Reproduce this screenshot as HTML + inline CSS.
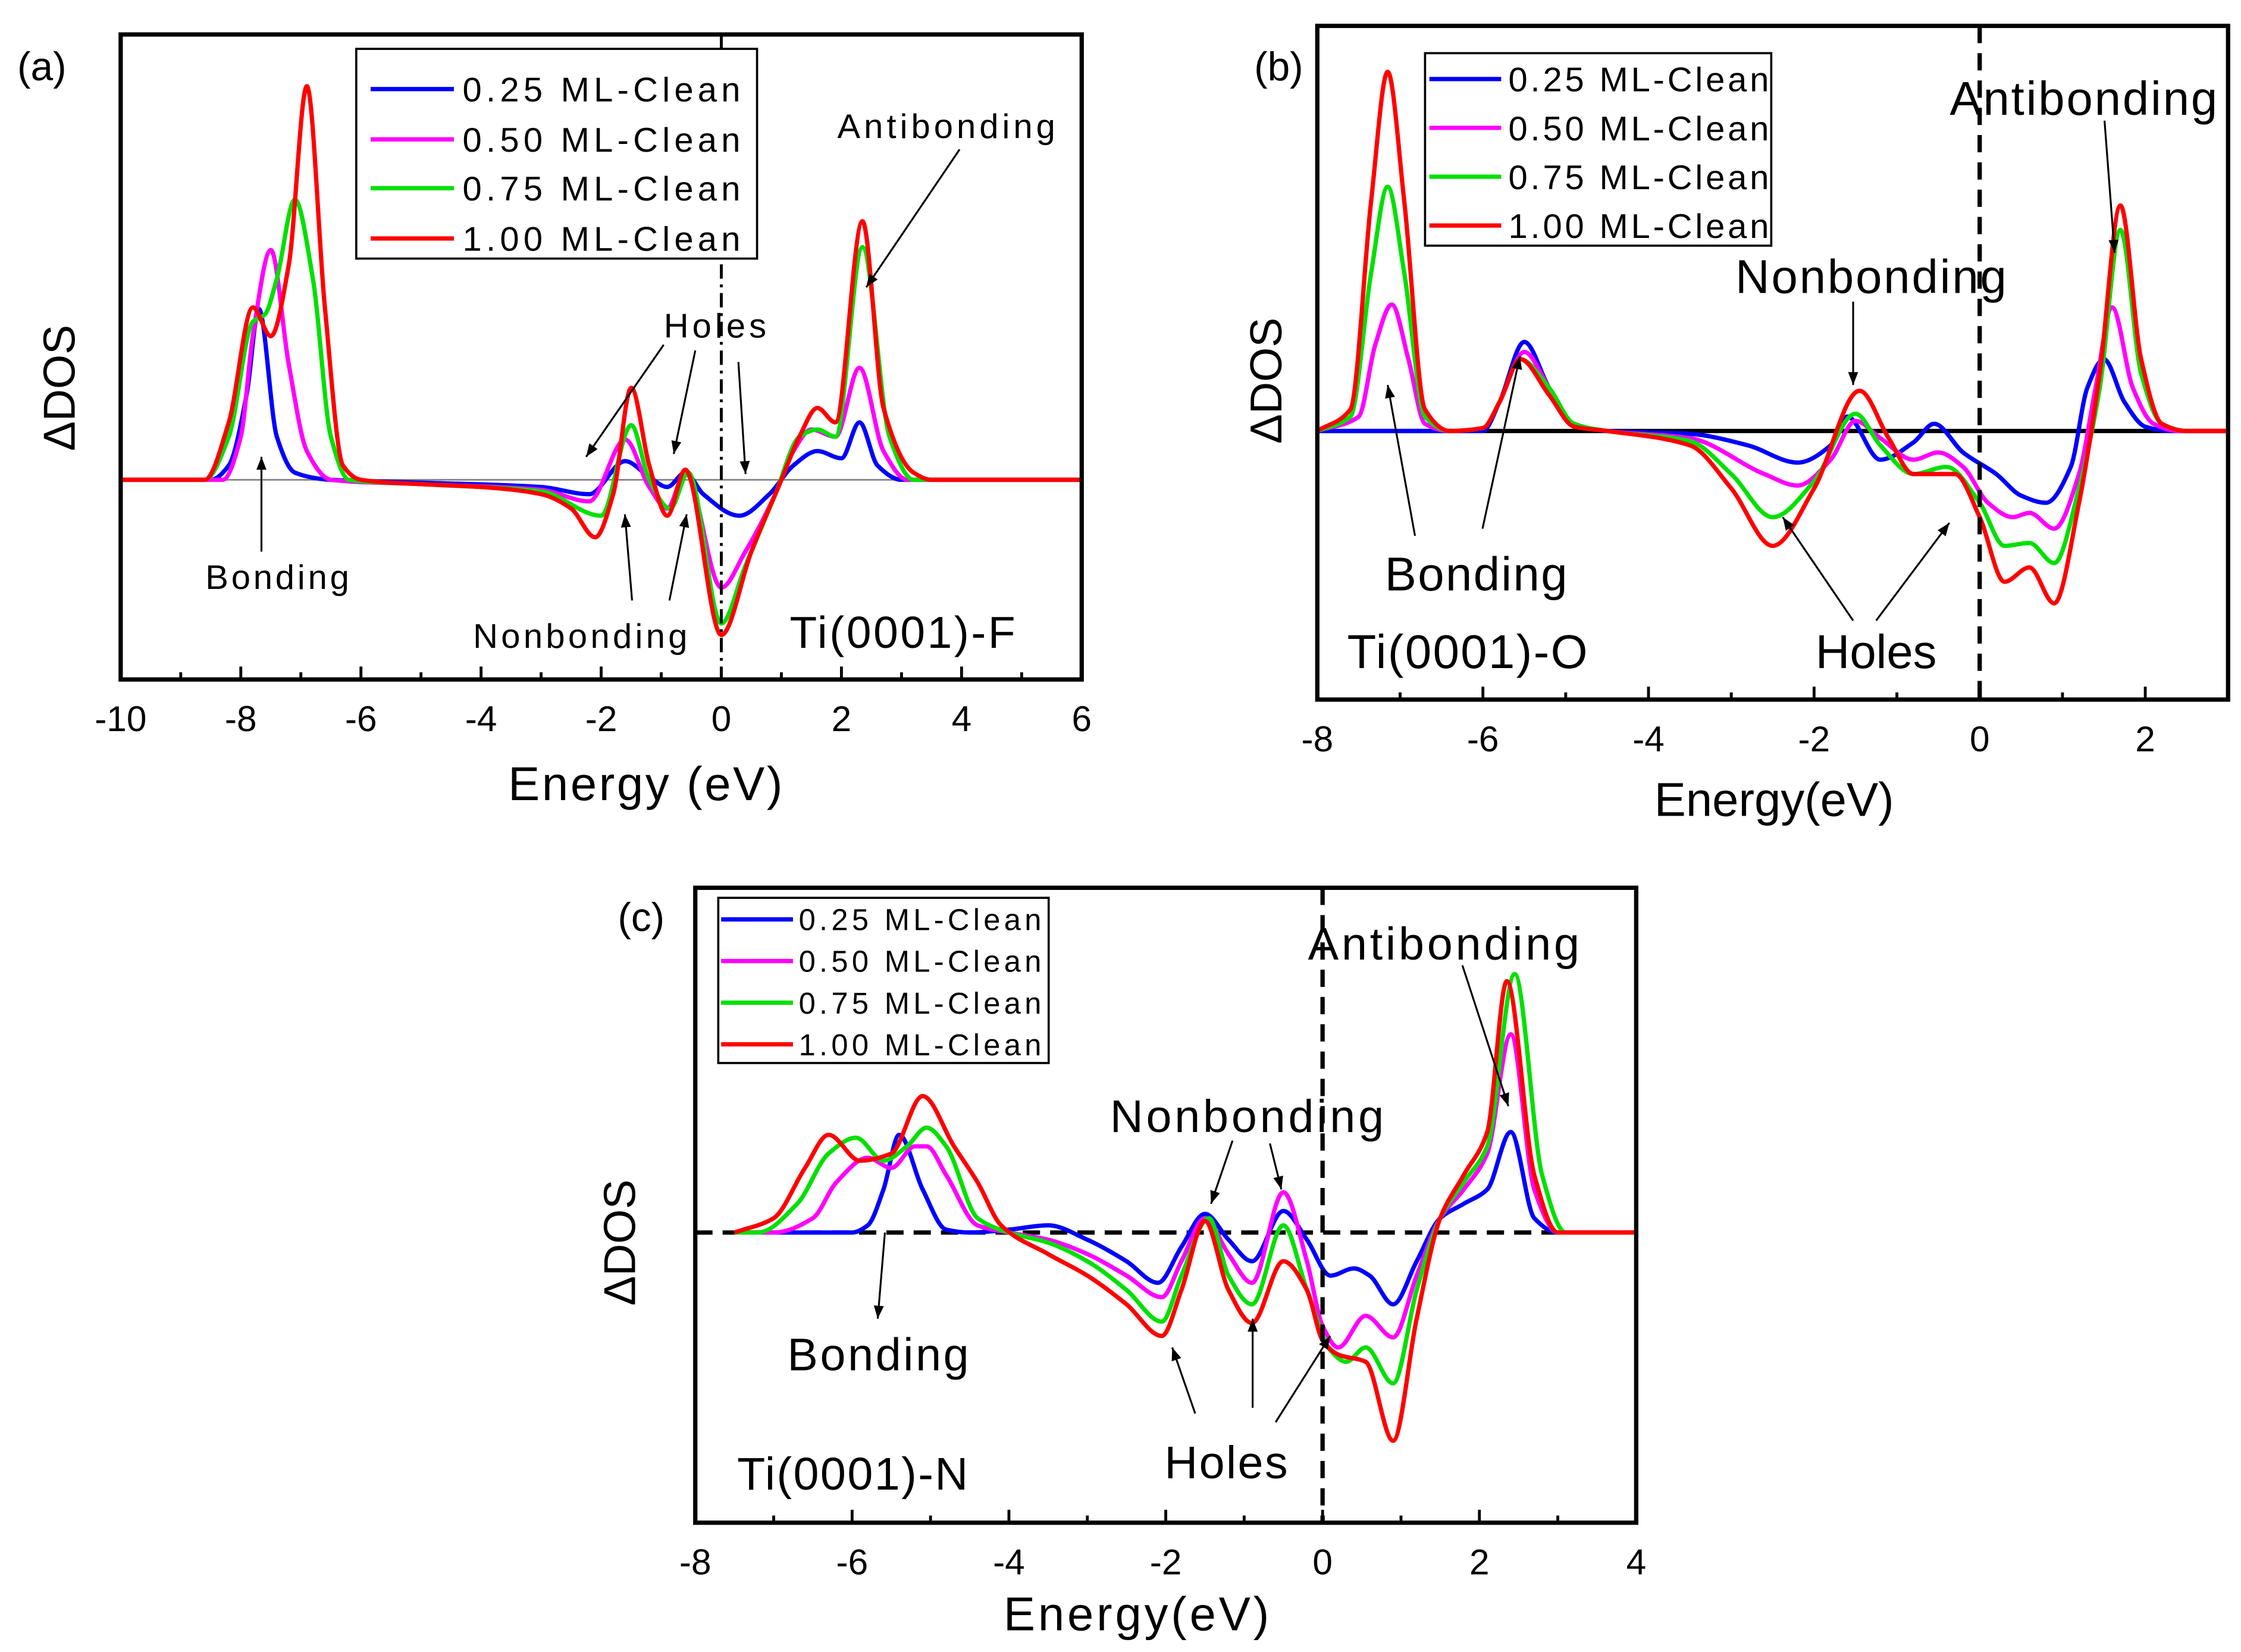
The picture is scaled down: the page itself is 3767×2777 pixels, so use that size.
<!DOCTYPE html>
<html><head><meta charset="utf-8"><style>
html,body{margin:0;padding:0;background:#fff}
svg{display:block}
text{font-family:"Liberation Sans",sans-serif;fill:#000}
</style></head><body>
<svg id="fig" width="3767" height="2777" viewBox="0 0 1560 1150" xmlns="http://www.w3.org/2000/svg"></svg>
<script>
// ---------- Data (energy eV, ΔDOS arbitrary units) ----------
const seriesLabels = ["0.25 ML-Clean","0.50 ML-Clean","0.75 ML-Clean","1.00 ML-Clean"];
const seriesColors = ["#0000ff","#ff00ff","#00e000","#ff0000"];
// Panel (a) Ti(0001)-F
const a_blue = [[-10,0],[-8.5,0],[-8.2,0.1],[-7.9,0.6],[-7.7,1.19],[-7.4,0.3],[-7.1,0.05],[-6.5,0],[-5,-0.02],[-3,-0.05],[-2.2,-0.1],[-1.6,0.13],[-1.2,0.02],[-0.9,-0.05],[-0.6,0.05],[-0.3,-0.1],[0.3,-0.25],[0.8,-0.1],[1.2,0.1],[1.6,0.2],[2.0,0.15],[2.3,0.4],[2.6,0.1],[3,0],[6,0]];
const a_magenta = [[-10,0],[-8.3,0],[-8,0.3],[-7.8,1.0],[-7.5,1.6],[-7.2,0.8],[-6.9,0.2],[-6.5,0],[-5,-0.03],[-3,-0.07],[-2.2,-0.15],[-1.6,0.28],[-1.2,-0.05],[-0.9,-0.2],[-0.6,0.05],[0,-0.75],[0.4,-0.5],[0.9,-0.1],[1.2,0.2],[1.5,0.35],[1.9,0.3],[2.3,0.78],[2.7,0.2],[3.1,0],[6,0]];
const a_green = [[-10,0],[-8.6,0],[-8.2,0.3],[-7.8,1.1],[-7.6,1.15],[-7.4,1.4],[-7.1,1.95],[-6.8,1.4],[-6.5,0.3],[-6.2,0],[-5,-0.03],[-3,-0.08],[-2,-0.25],[-1.5,0.38],[-1.2,0],[-0.85,-0.2],[-0.55,0.05],[0,-1.0],[0.4,-0.6],[0.9,-0.1],[1.3,0.3],[1.6,0.35],[1.9,0.3],[2.35,1.62],[2.8,0.3],[3.2,0],[6,0]];
const a_red = [[-10,0],[-8.6,0],[-8.2,0.4],[-7.8,1.2],[-7.5,1.0],[-7.2,1.5],[-6.9,2.74],[-6.6,1.2],[-6.3,0.1],[-6,0],[-5,-0.03],[-4,-0.05],[-3,-0.1],[-2.5,-0.2],[-2.1,-0.4],[-1.8,-0.1],[-1.5,0.64],[-1.2,0.1],[-0.9,-0.25],[-0.6,0.07],[0,-1.08],[0.5,-0.5],[1.0,0],[1.3,0.3],[1.6,0.5],[1.9,0.4],[2.35,1.8],[2.7,0.5],[3.2,0.05],[3.5,0],[6,0]];
// Panel (b) Ti(0001)-O
const b_blue = [[-8,0],[-6,0],[-5.8,0.2],[-5.5,0.62],[-5.2,0.3],[-4.9,0.05],[-4.5,0],[-3.5,-0.02],[-2.8,-0.1],[-2.2,-0.22],[-1.8,-0.1],[-1.6,0.1],[-1.2,-0.2],[-0.8,-0.08],[-0.55,0.05],[-0.2,-0.15],[0.2,-0.3],[0.5,-0.45],[0.8,-0.5],[1.1,-0.25],[1.3,0.3],[1.5,0.5],[1.75,0.2],[2,0.03],[2.3,0],[3,0]];
const b_magenta = [[-8,0],[-7.5,0.1],[-7.3,0.6],[-7.1,0.88],[-6.9,0.5],[-6.7,0.05],[-6.4,0],[-6,0.02],[-5.8,0.2],[-5.5,0.55],[-5.2,0.3],[-4.9,0.05],[-4.5,0],[-3.5,-0.05],[-2.6,-0.3],[-2.2,-0.38],[-1.8,-0.2],[-1.5,0.07],[-1.2,-0.05],[-0.8,-0.2],[-0.5,-0.15],[-0.2,-0.25],[0.1,-0.5],[0.4,-0.6],[0.6,-0.57],[0.9,-0.68],[1.2,-0.3],[1.4,0.3],[1.6,0.86],[1.85,0.3],[2.1,0.05],[2.4,0],[3,0]];
const b_green = [[-8,0],[-7.6,0.1],[-7.35,1.1],[-7.15,1.7],[-6.95,1.1],[-6.7,0.1],[-6.4,0],[-6,0.02],[-5.8,0.2],[-5.55,0.5],[-5.2,0.3],[-4.9,0.05],[-4.5,0],[-3.5,-0.07],[-3,-0.3],[-2.5,-0.6],[-2,-0.35],[-1.5,0.12],[-1.2,-0.1],[-0.8,-0.3],[-0.4,-0.25],[0,-0.5],[0.3,-0.8],[0.6,-0.78],[0.9,-0.92],[1.2,-0.4],[1.45,0.3],[1.7,1.4],[1.95,0.4],[2.2,0.05],[2.5,0],[3,0]];
const b_red = [[-8,0],[-7.6,0.15],[-7.35,1.6],[-7.15,2.5],[-6.95,1.6],[-6.7,0.15],[-6.4,0],[-6,0.02],[-5.8,0.2],[-5.55,0.5],[-5.2,0.25],[-4.9,0.03],[-4.5,0],[-3.5,-0.1],[-3,-0.4],[-2.5,-0.8],[-2,-0.4],[-1.45,0.28],[-1.1,-0.05],[-0.8,-0.3],[-0.3,-0.3],[0,-0.6],[0.3,-1.05],[0.6,-0.95],[0.9,-1.2],[1.2,-0.5],[1.45,0.4],[1.7,1.57],[1.95,0.5],[2.2,0.05],[2.5,0],[3,0]];
// Panel (c) Ti(0001)-N
const c_blue = [[-7.5,0],[-6,0],[-5.8,0.05],[-5.6,0.3],[-5.4,0.68],[-5.1,0.3],[-4.8,0.02],[-4.5,0],[-4,0.02],[-3.5,0.05],[-3,-0.05],[-2.5,-0.2],[-2.1,-0.35],[-1.8,-0.1],[-1.5,0.13],[-1.2,-0.05],[-0.9,-0.2],[-0.5,0.15],[-0.2,-0.05],[0.1,-0.3],[0.4,-0.25],[0.6,-0.3],[0.9,-0.5],[1.2,-0.2],[1.5,0.1],[1.8,0.2],[2.1,0.3],[2.4,0.7],[2.7,0.1],[3,0],[4,0]];
const c_magenta = [[-7.5,0],[-7,0],[-6.5,0.1],[-6.2,0.35],[-5.8,0.52],[-5.5,0.45],[-5.2,0.6],[-5.05,0.6],[-4.8,0.4],[-4.4,0.05],[-4,0],[-3.5,-0.05],[-3,-0.15],[-2.5,-0.3],[-2.05,-0.45],[-1.8,-0.2],[-1.5,0.1],[-1.2,-0.15],[-0.9,-0.35],[-0.5,0.28],[-0.2,-0.2],[0,-0.65],[0.2,-0.8],[0.55,-0.58],[0.9,-0.73],[1.2,-0.3],[1.5,0.1],[1.8,0.3],[2.1,0.55],[2.4,1.38],[2.7,0.3],[3,0],[4,0]];
const c_green = [[-7.5,0],[-7.2,0],[-6.7,0.2],[-6.3,0.55],[-5.95,0.66],[-5.6,0.5],[-5.3,0.6],[-5.05,0.73],[-4.8,0.6],[-4.4,0.1],[-4,0],[-3.5,-0.07],[-3,-0.2],[-2.5,-0.4],[-2.05,-0.62],[-1.8,-0.3],[-1.45,0.1],[-1.2,-0.3],[-0.9,-0.5],[-0.5,0.05],[-0.2,-0.4],[0.1,-0.82],[0.3,-0.9],[0.55,-0.8],[0.9,-1.05],[1.2,-0.4],[1.5,0.1],[1.8,0.35],[2.1,0.6],[2.45,1.8],[2.8,0.4],[3.1,0],[4,0]];
const c_red = [[-7.5,0],[-7,0.1],[-6.6,0.45],[-6.3,0.68],[-5.9,0.5],[-5.5,0.55],[-5.1,0.95],[-4.7,0.6],[-4.4,0.35],[-4.1,0.05],[-3.5,-0.15],[-3,-0.3],[-2.5,-0.5],[-2.05,-0.72],[-1.8,-0.4],[-1.5,0.08],[-1.2,-0.4],[-0.9,-0.63],[-0.5,-0.2],[-0.2,-0.4],[0,-0.75],[0.2,-0.85],[0.55,-0.9],[0.9,-1.45],[1.2,-0.6],[1.5,0.1],[1.8,0.4],[2.1,0.7],[2.35,1.75],[2.7,0.4],[3,0],[4,0]];
const a_ticks = [-10,-8,-6,-4,-2,0,2,4,6];
const b_ticks = [-8,-6,-4,-2,0,2];
const c_ticks = [-8,-6,-4,-2,0,2,4];

const NS = "http://www.w3.org/2000/svg";
const svg = document.getElementById('fig');
function mk(tag, attrs, parent, txt){
  const e = document.createElementNS(NS, tag);
  for (const k in attrs) e.setAttribute(k, attrs[k]);
  if (txt !== undefined) e.textContent = txt;
  (parent || svg).appendChild(e);
  return e;
}
// monotone cubic (Fritsch–Carlson) to avoid overshoot
function smooth(pts){
  const n = pts.length;
  const dx = [], s = [];
  for (let i = 0; i < n-1; i++){ dx[i] = pts[i+1][0]-pts[i][0]; s[i] = (pts[i+1][1]-pts[i][1])/dx[i]; }
  const m = [s[0]];
  for (let i = 1; i < n-1; i++){
    if (s[i-1]*s[i] <= 0) m[i] = 0;
    else { const w1 = 2*dx[i]+dx[i-1], w2 = dx[i]+2*dx[i-1]; m[i] = (w1+w2)/(w1/s[i-1]+w2/s[i]); }
  }
  m[n-1] = s[n-2];
  let d = "M" + pts[0][0].toFixed(2) + "," + pts[0][1].toFixed(2);
  for (let i = 0; i < n-1; i++){
    const h = dx[i];
    d += " C" + (pts[i][0]+h/3).toFixed(2) + "," + (pts[i][1]+m[i]*h/3).toFixed(2) + " " +
         (pts[i+1][0]-h/3).toFixed(2) + "," + (pts[i+1][1]-m[i+1]*h/3).toFixed(2) + " " +
         pts[i+1][0].toFixed(2) + "," + pts[i+1][1].toFixed(2);
  }
  return d;
}
function arrow(g, x1, y1, x2, y2){
  const a = mk('line', {x1:x1, y1:y1, x2:x2, y2:y2, stroke:'#000', 'stroke-width':1.3}, g);
  
  
  const ang = Math.atan2(y2-y1, x2-x1), L = 9, W = 3.5;
  const bx = x2 - L*Math.cos(ang), by = y2 - L*Math.sin(ang);
  const h = mk('polygon', {points: x2+","+y2+" "+(bx - W*Math.sin(ang))+","+(by + W*Math.cos(ang))+" "+(bx + W*Math.sin(ang))+","+(by - W*Math.cos(ang)), fill:'#000'}, g);
  
  
}

function panel(cfg){
  const g = mk('g', {});
  
  
  const X = e => cfg.x0 + (e - cfg.emin) * (cfg.x1 - cfg.x0) / (cfg.emax - cfg.emin);
  const Y = v => cfg.yz - v * cfg.ys;
  const zl = mk('line', {x1:cfg.x0, x2:cfg.x1, y1:cfg.yz, y2:cfg.yz, stroke: cfg.zeroColor, 'stroke-width': cfg.zeroW}, g);
  if (cfg.zeroDash) zl.setAttribute('stroke-dasharray', cfg.zeroDash);
  
  
  cfg.series.forEach((s, i) => {
    const p = mk('path', {d: smooth(s.map(q => [X(q[0]), Y(q[1])])), fill:'none', stroke: seriesColors[i], 'stroke-width': 3, 'stroke-linejoin':'round'}, g);
    
    
  });
  const fl = mk('line', {x1:X(0), x2:X(0), y1:cfg.y0, y2:cfg.y1, stroke:'#000', 'stroke-width': cfg.fermiW, 'stroke-dasharray': cfg.fermiDash}, g);
  
  
  const fr = mk('rect', {x:cfg.x0, y:cfg.y0, width:cfg.x1-cfg.x0, height:cfg.y1-cfg.y0, fill:'none', stroke:'#000', 'stroke-width':3}, g);
  
  
  for (let e = cfg.emin; e <= cfg.emax + 1e-9; e += 1){
    const major = cfg.ticks.includes(e);
    const t = mk('line', {x1:X(e), x2:X(e), y1:cfg.y1, y2:cfg.y1 - (major ? 9 : 5), stroke:'#000', 'stroke-width':2}, g);
    
    
  }
  cfg.ticks.forEach(e => {
    const t = mk('text', {x:X(e), y:cfg.y1 + 36, 'font-size':25, 'text-anchor':'middle'}, g, String(e));
    
    
  });
  const xt = mk('text', {x:cfg.xtX, y:cfg.xtY, 'font-size':33, 'text-anchor':'middle', 'letter-spacing':cfg.xtLS||0}, g, cfg.xtitle);
  
  
  const yt = mk('text', {x:0, y:0, 'font-size':31, 'text-anchor':'middle', transform:'translate(' + cfg.ytX + ',' + cfg.ytY + ') rotate(-90)'}, g, 'ΔDOS');
  
  
  const pl = mk('text', {x:cfg.plX, y:cfg.plY, 'font-size':28}, g, cfg.plabel);
  
  
  const L = cfg.leg;
  const lg = mk('g', {}, g);
  
  
  const lb = mk('rect', {x:L.x, y:L.y, width:L.w, height:L.h, fill:'#fff', stroke:'#000', 'stroke-width':1.5}, lg);
  
  
  seriesLabels.forEach((lab, i) => {
    const ry = L.rows[i];
    const ll = mk('line', {x1:L.lx1, x2:L.lx2, y1:ry, y2:ry, stroke:seriesColors[i], 'stroke-width':3}, lg);
    
    
    const lt = mk('text', {x:L.tx, y:ry + L.fs*0.36, 'font-size':L.fs, 'letter-spacing':L.ls}, lg, lab);
    
    
  });
  cfg.notes.forEach(n => {
    const t = mk('text', {x:n[1], y:n[2], 'font-size':n[3], 'text-anchor':'middle', 'letter-spacing':n[4]||0}, g, n[0]);
    
    
  });
  cfg.arrows.forEach(a => arrow(g, a[0], a[1], a[2], a[3]));
}

panel({name:'panel-a-ti-f', x0:84, x1:753, y0:24, y1:473, emin:-10, emax:6, yz:334, ys:100,
  zeroColor:'#888', zeroW:1.2, fermiW:2, fermiDash:'10,4,2,4',
  series:[a_blue, a_magenta, a_green, a_red], ticks:a_ticks,
  xtitle:'Energy (eV)', xtX:450, xtY:557, xtLS:1.5, ytX:52, ytY:270, plabel:'(a)', plX:12, plY:56,
  leg:{x:248, y:34, w:279, h:146, rows:[62,97,131,166], lx1:258, lx2:316, tx:322, fs:24, ls:3},
  notes:[['Antibonding',660,96,24,2.5],['Holes',499,235,24,2.5],['Bonding',194,410,24,2],['Nonbonding',405,451,24,2.2],['Ti(0001)-F',629,451,31,1.5]],
  arrows:[[668,104,603,200],[462,240,408,318],[484,244,469,316],[514,252,519,330],[182,384,182,318],[440,418,435,358],[466,418,478,358]]});

panel({name:'panel-b-ti-o', x0:917, x1:1551, y0:18, y1:487, emin:-8, emax:3, yz:300, ys:100,
  zeroColor:'#000', zeroW:3, fermiW:3, fermiDash:'12,7',
  series:[b_blue, b_magenta, b_green, b_red], ticks:b_ticks,
  xtitle:'Energy(eV)', xtX:1235, xtY:568, ytX:892, ytY:265, plabel:'(b)', plX:873, plY:56,
  leg:{x:992, y:37, w:241, h:134, rows:[55,89,123,157], lx1:995, lx2:1045, tx:1050, fs:24, ls:2},
  notes:[['Antibonding',1451,80,33,1.2],['Nonbonding',1303,204,33,1.2],['Bonding',1028,411,33,1],['Ti(0001)-O',1022,465,33,1],['Holes',1306,465,33]],
  arrows:[[1465,84,1472,176],[1290,210,1290,268],[985,373,966,268],[1032,368,1058,248],[1290,432,1241,360],[1306,432,1357,364]]});

panel({name:'panel-c-ti-n', x0:484, x1:1139, y0:618, y1:1060, emin:-8, emax:4, yz:858, ys:100,
  zeroColor:'#000', zeroW:3, zeroDash:'12,7', fermiW:3, fermiDash:'12,7',
  series:[c_blue, c_magenta, c_green, c_red], ticks:c_ticks,
  xtitle:'Energy(eV)', xtX:792, xtY:1135, xtLS:2, ytX:442, ytY:865, plabel:'(c)', plX:430, plY:648,
  leg:{x:500, y:625, w:230, h:115, rows:[640,669,698,727], lx1:502, lx2:552, tx:556, fs:21, ls:2.6},
  notes:[['Antibonding',1006,668,32,2],['Nonbonding',869,788,32,2],['Bonding',612,954,32,1.5],['Holes',854,1029,32,1],['Ti(0001)-N',594,1037,32,1]],
  arrows:[[1018,672,1050,770],[858,794,843,838],[884,796,892,828],[616,858,611,918],[832,984,816,938],[872,980,872,918],[888,990,926,930]]});
</script>
</body></html>
